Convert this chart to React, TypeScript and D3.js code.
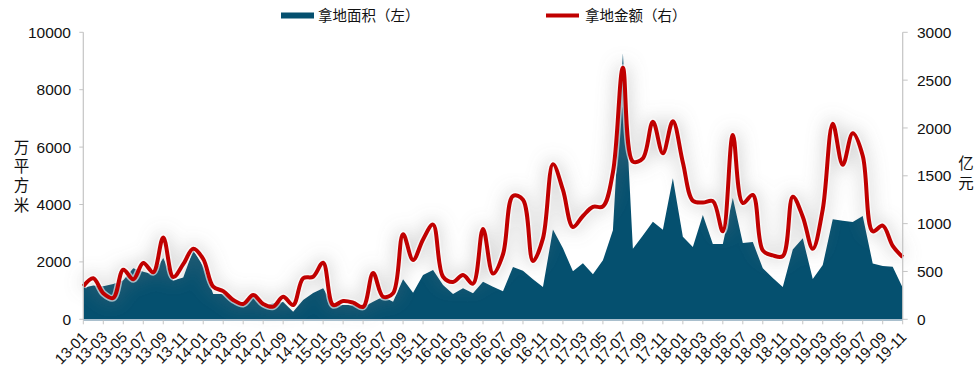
import { useEffect, useRef } from 'react'
import * as d3 from 'd3'

// month labels 13-01 .. 19-11
const years = ['13', '14', '15', '16', '17', '18', '19']
const monthNums = ['01', '02', '03', '04', '05', '06', '07', '08', '09', '10', '11', '12']
const categories: string[] = []
years.forEach(y => monthNums.forEach(m => categories.push(`${y}-${m}`)))
categories.splice(categories.indexOf('19-12'), 1)

// 拿地面积（左），万平方米
const landArea = [
  1100, 1180, 1150, 1230, 1360, 1777, 1660, 1570, 2140, 1350, 1460, 2410,
  1850, 880, 880, 610, 560, 790, 440, 560, 600, 265, 670, 920,
  1080, 500, 500, 500, 420, 613, 788, 613, 1394, 928, 1544, 1718,
  1195, 881, 1080, 905, 1311, 1136, 980, 1820, 1693, 1394, 1125, 3130,
  2473, 1670, 1951, 1570, 2055, 3100, 9270, 2460, 2920, 3401, 3120, 4913,
  2878, 2520, 3634, 2624, 2624, 4230, 2660, 2690, 1777, 1440, 1125, 2430,
  2822, 1400, 1890, 3484, 3430, 3390, 3599, 1940, 1857, 1833, 1100
]

// 拿地金额（右），亿元
const landAmount = [
  345, 429, 272, 223, 518, 418, 588, 492, 855, 442, 576, 737,
  630, 341, 294, 202, 160, 254, 160, 132, 236, 149, 429, 445,
  592, 149, 191, 174, 130, 484, 236, 272, 890, 620, 835, 990,
  445, 390, 463, 372, 945, 478, 680, 1290, 1250, 610, 846, 1622,
  1352, 965, 1080, 1175, 1180, 1535, 2630, 1648, 1683, 2066, 1735, 2070,
  1640, 1240, 1220, 1235, 920, 1927, 1215, 1300, 720, 668, 660, 1282,
  1073, 737, 1150, 2045, 1615, 1944, 1710, 920, 980, 768, 650
]

const leftTicks = [0, 2000, 4000, 6000, 8000, 10000]
const rightTicks = [0, 500, 1000, 1500, 2000, 2500, 3000]

const width = 977
const height = 377
const areaColor = '#05506f'
const lineColor = '#c00000'
const numFont = '"Liberation Sans", Arial, sans-serif'
const cjkFont = '"Noto Sans CJK SC", "Noto Sans", sans-serif'

export default function App() {
  const svgRef = useRef<SVGSVGElement>(null)

  useEffect(() => {
    const svg = d3.select(svgRef.current)
    svg.selectAll('*').remove()

    const left = 83.3
    const right = 902.7
    const top = 32.3
    const bottom = 319.3

    const x = d3.scalePoint<string>().domain(categories).range([left, right])
    const yL = d3.scaleLinear().domain([0, 10000]).range([bottom, top])
    const yR = d3.scaleLinear().domain([0, 3000]).range([bottom, top])

    const defs = svg.append('defs')
    defs.append('filter')
      .attr('id', 'haze')
      .attr('x', '-20%').attr('y', '-60%')
      .attr('width', '140%').attr('height', '220%')
      .append('feGaussianBlur')
      .attr('stdDeviation', 9)

    const rows = categories.map((c, i) => ({ c, a: landArea[i], v: landAmount[i] }))

    // area
    const area = d3.area<any>()
      .x(d => x(d.c)!)
      .y0(bottom)
      .y1(d => yL(d.a))
    svg.append('path')
      .datum(rows)
      .attr('d', area)
      .attr('fill', areaColor)

    // line with soft shadow
    const line = d3.line<any>()
      .x(d => x(d.c)!)
      .y(d => yR(d.v))
      .curve(d3.curveCatmullRom.alpha(0.5))

    svg.append('path')
      .datum(rows)
      .attr('d', line)
      .attr('fill', 'none')
      .attr('stroke', '#7a7a7a')
      .attr('stroke-opacity', 0.35)
      .attr('stroke-width', 9)
      .attr('filter', 'url(#haze)')

    svg.append('path')
      .datum(rows)
      .attr('d', line)
      .attr('fill', 'none')
      .attr('stroke', '#ffffff')
      .attr('stroke-opacity', 0.6)
      .attr('stroke-width', 7)

    svg.append('path')
      .datum(rows)
      .attr('d', line)
      .attr('fill', 'none')
      .attr('stroke', lineColor)
      .attr('stroke-width', 4)
      .attr('stroke-linejoin', 'round')

    // left axis
    svg.append('line')
      .attr('x1', left).attr('x2', left)
      .attr('y1', top).attr('y2', bottom)
      .attr('stroke', '#c4c4c4').attr('stroke-width', 1.2)
    leftTicks.forEach(t => {
      svg.append('line')
        .attr('x1', left - 4).attr('x2', left)
        .attr('y1', yL(t)).attr('y2', yL(t))
        .attr('stroke', '#c4c4c4')
      svg.append('text')
        .attr('x', 71).attr('y', yL(t))
        .attr('dy', '0.36em')
        .attr('text-anchor', 'end')
        .style('font-family', numFont)
        .style('font-size', '15.5px')
        .style('fill', '#111')
        .text(t)
    })

    // right axis
    svg.append('line')
      .attr('x1', right).attr('x2', right)
      .attr('y1', top).attr('y2', bottom)
      .attr('stroke', '#c4c4c4').attr('stroke-width', 1.2)
    rightTicks.forEach(t => {
      svg.append('line')
        .attr('x1', right).attr('x2', right + 5)
        .attr('y1', yR(t)).attr('y2', yR(t))
        .attr('stroke', '#c4c4c4')
      svg.append('text')
        .attr('x', 917).attr('y', yR(t))
        .attr('dy', '0.36em')
        .attr('text-anchor', 'start')
        .style('font-family', numFont)
        .style('font-size', '15.5px')
        .style('fill', '#111')
        .text(t)
    })

    // bottom axis
    svg.append('line')
      .attr('x1', left).attr('x2', right)
      .attr('y1', bottom + 0.8).attr('y2', bottom + 0.8)
      .attr('stroke', '#a9bfcd').attr('stroke-width', 2)
    categories.forEach((c, i) => {
      if (i % 2 !== 0) return
      const cx = x(c)!
      svg.append('line')
        .attr('x1', cx).attr('x2', cx)
        .attr('y1', bottom + 1).attr('y2', bottom + 5)
        .attr('stroke', '#c4c4c4')
      svg.append('text')
        .attr('transform', `translate(${cx + 1},${bottom + 15}) rotate(-45)`)
        .attr('dy', '0.36em')
        .attr('text-anchor', 'end')
        .style('font-family', numFont)
        .style('font-size', '15px')
        .style('fill', '#111')
        .text(c)
    })

    // axis titles, vertical text
    svg.append('text')
      .attr('x', 21.5).attr('y', 139)
      .attr('writing-mode', 'tb')
      .style('writing-mode', 'vertical-rl')
      .style('letter-spacing', '3.8px')
      .style('font-family', cjkFont)
      .style('font-size', '15.5px')
      .style('fill', '#111')
      .text('万平方米')
    svg.append('text')
      .attr('x', 966).attr('y', 155.5)
      .attr('writing-mode', 'tb')
      .style('writing-mode', 'vertical-rl')
      .style('letter-spacing', '4.5px')
      .style('font-family', cjkFont)
      .style('font-size', '15.5px')
      .style('fill', '#111')
      .text('亿元')

    // legend
    const legend = svg.append('g')
    legend.append('rect')
      .attr('x', 281).attr('y', 12.5)
      .attr('width', 33).attr('height', 6)
      .attr('fill', areaColor)
    legend.append('text')
      .attr('x', 318).attr('y', 15.5)
      .attr('dy', '0.36em')
      .style('font-family', cjkFont)
      .style('font-size', '14.5px')
      .style('fill', '#111')
      .text('拿地面积（左）')
    legend.append('line')
      .attr('x1', 546).attr('x2', 579)
      .attr('y1', 15.5).attr('y2', 15.5)
      .attr('stroke', lineColor)
      .attr('stroke-width', 4)
    legend.append('text')
      .attr('x', 585).attr('y', 15.5)
      .attr('dy', '0.36em')
      .style('font-family', cjkFont)
      .style('font-size', '14.5px')
      .style('fill', '#111')
      .text('拿地金额（右）')
  }, [])

  return (
    <div style={{ position: 'absolute', left: 0, top: 0, width, height, background: '#fff' }}>
      <svg ref={svgRef} width={width} height={height} style={{ display: 'block' }}></svg>
    </div>
  )
}
